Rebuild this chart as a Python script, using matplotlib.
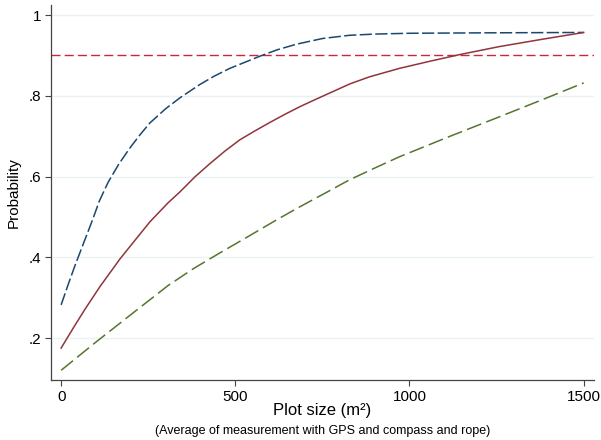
import matplotlib.pyplot as plt

# values
blueX = [0, 20, 40, 60, 89, 110, 135, 165, 195, 225, 255, 300, 341, 398, 440, 484, 530,
         570, 620, 676, 750, 828, 900, 1000, 1200, 1500]
blueY = [0.282, 0.332, 0.38, 0.425, 0.49, 0.54, 0.586, 0.63, 0.668, 0.702, 0.733, 0.768,
         0.795, 0.828, 0.849, 0.868, 0.884, 0.898, 0.914, 0.928, 0.942, 0.950, 0.953,
         0.955, 0.956, 0.957]

redX = [0, 35, 69, 112, 169, 210, 255, 307, 341, 385, 427, 470, 513, 556, 599, 642, 685,
        730, 771, 830, 885, 930, 971, 1060, 1143, 1258, 1380, 1500]
redY = [0.175, 0.225, 0.272, 0.328, 0.396, 0.44, 0.488, 0.535, 0.562, 0.6, 0.632, 0.663,
        0.691, 0.713, 0.734, 0.754, 0.773, 0.791, 0.807, 0.83, 0.847, 0.858, 0.868,
        0.886, 0.902, 0.922, 0.94, 0.957]

greenX = [0, 100, 221, 307, 380, 456, 540, 619, 685, 760, 828, 900, 971, 1114, 1258, 1380, 1500]
greenY = [0.12, 0.19, 0.272, 0.33, 0.372, 0.411, 0.453, 0.493, 0.525, 0.56, 0.592, 0.621,
          0.649, 0.699, 0.748, 0.79, 0.832]

threshold = 0.9
yTicks = [0.2, 0.4, 0.6, 0.8, 1.0]
yTickLabels = [".2", ".4", ".6", ".8", "1"]
xTicks = [0, 500, 1000, 1500]


def main():
    plt.rcParams["font.family"] = ["Liberation Sans", "DejaVu Sans"]
    fig = plt.figure(figsize=(6.01, 4.40), dpi=100)
    ax = fig.add_axes([0.0849, 0.1364, 0.9031, 0.8522])

    for y in yTicks:
        ax.axhline(y, color="#eaf2f3", linewidth=1.0, zorder=0)

    ax.axhline(threshold, color="#c8283c", linewidth=1.0, dashes=(6.5, 3))
    ax.plot(blueX, blueY, color="#1a476f", linewidth=1.1, dashes=(8, 2.2))
    ax.plot(redX, redY, color="#90353b", linewidth=1.1)
    ax.plot(greenX, greenY, color="#55752f", linewidth=1.1, dashes=(10, 3.5))

    ax.set_xlim(-29, 1529)
    ax.set_ylim(0.096, 1.025)
    ax.set_xticks(xTicks)
    ax.set_xticklabels([str(v) for v in xTicks])
    ax.set_yticks(yTicks)
    ax.set_yticklabels(yTickLabels)
    ax.tick_params(labelsize=11, length=4, width=0.8, color="#444444", pad=3)

    for side in ["top", "right"]:
        ax.spines[side].set_visible(False)
    for side in ["left", "bottom"]:
        ax.spines[side].set_color("#444444")
        ax.spines[side].set_linewidth(0.9)

    ax.set_ylabel("Probability", fontsize=11, labelpad=6)
    fig.text(0.536, 0.068, "Plot size (m\u00b2)", ha="center", va="center", fontsize=12)
    fig.text(0.536, 0.0205, "(Average of measurement with GPS and compass and rope)",
             ha="center", va="center", fontsize=9)

    fig.savefig("out.png", dpi=100)


if __name__ == "__main__":
    main()
